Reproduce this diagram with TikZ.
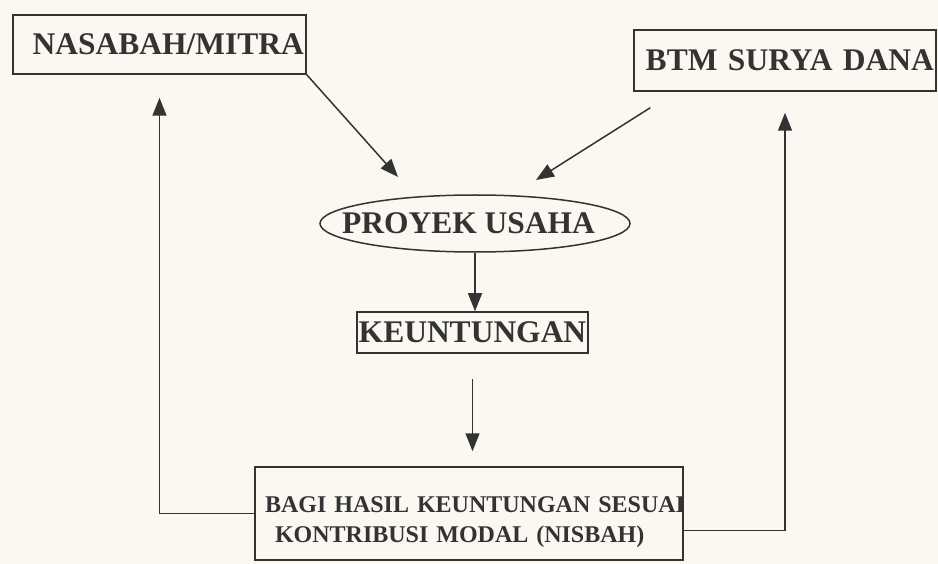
\documentclass[tikz,border=0pt]{standalone}
\usepackage{fontspec}
\setmainfont{Liberation Serif}
\usetikzlibrary{arrows.meta,calc,shapes.geometric}
\definecolor{ink}{HTML}{333333}
\definecolor{paper}{HTML}{FBF8F2}
\begin{document}
\begin{tikzpicture}[x=1pt,y=-1pt,
  box/.style={draw=ink, line width=1.5pt, inner sep=0pt, text=ink,
    font=\fontsize{31.5}{36}\selectfont\bfseries},
  conn/.style={draw=ink, line width=1.5pt, -{Triangle[length=18pt,width=14pt]}},
]
\fill[paper] (0,0) rectangle (938,564);
\useasboundingbox (0,0) rectangle (938,564);

\node[box, minimum width=293pt, minimum height=59pt, text width=289pt, align=right] (nas) at (159.5,44.5) {NASABAH/MITRA};
\node[box, minimum width=302pt, minimum height=61pt, text width=298pt, align=right] (btm) at (785,60.5) {BTM SURYA DANA};
\node[box, ellipse, minimum width=310pt, minimum height=57pt] (proyek) at (475,223.5) {\makebox[0pt]{PROYEK USAHA\hspace*{13pt}}};
\node[box, minimum width=231pt, minimum height=41pt] (keu) at (472.5,332.5) {KEUNTUNGAN};
\node[box, font=\fontsize{24}{30}\selectfont\bfseries, minimum width=428pt, minimum height=93pt,
  text width=408pt, inner xsep=10pt, align=left] (bagi) at (469,513.5)
  {\mbox{\rule{0pt}{33pt}BAGI HASIL KEUNTUNGAN SESUAI}\\\mbox{\hspace*{10pt}KONTRIBUSI MODAL (NISBAH)}};

\coordinate (ta) at (398,177);
\coordinate (sb) at ($(btm.south west)+(17,16)$);
\coordinate (tb) at (536,180);

\draw[conn] (nas.south east) -- (ta);
\draw[conn] (sb) -- (tb);
\draw[conn] (proyek.south) -- (proyek.south |- keu.north);
\draw[conn, shorten <=25pt, shorten >=15pt] (keu.south) -- (keu.south |- bagi.north);
\draw[conn, shorten >=23pt] (bagi.west) -| (nas.south);
\draw[conn, shorten >=21pt] ($(bagi.east)+(0,17)$) -| (btm.south);
\end{tikzpicture}
\end{document}
